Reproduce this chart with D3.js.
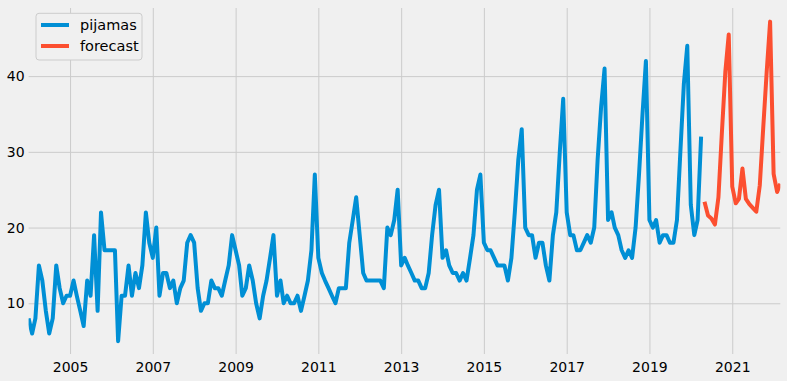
<!DOCTYPE html>
<html>
<head>
<meta charset="utf-8">
<script src="https://cdn.jsdelivr.net/npm/d3@7"></script>
<style>
  body { margin: 0; background: #f0f0f0; }
  text { font-family: "DejaVu Sans", sans-serif; fill: #000; }
</style>
</head>
<body>
<div id="chart"></div>
<script>
// Monthly search interest for "pijamas", Jan 2004 - Apr 2020
var pijamasStart = "2004-01";
var pijamasValues = [
  8, 6, 8, 15, 13, 9, 6, 8, 15, 12, 10, 11,
  11, 13, 11, 9, 7, 13, 11, 19, 9, 22, 17, 17,
  17, 17, 5, 11, 11, 15, 11, 14, 12, 15, 22, 18,
  16, 20, 11, 14, 14, 12, 13, 10, 12, 13, 18, 19,
  18, 12, 9, 10, 10, 13, 12, 12, 11, 13, 15, 19,
  17, 15, 11, 12, 15, 13, 10, 8, 11, 13, 16, 19,
  11, 13, 10, 11, 10, 10, 11, 9, 11, 13, 17, 27,
  16, 14, 13, 12, 11, 10, 12, 12, 12, 18, 21, 24,
  19, 14, 13, 13, 13, 13, 13, 12, 20, 19, 21, 25,
  15, 16, 15, 14, 13, 13, 12, 12, 14, 19, 23, 25,
  16, 17, 15, 14, 14, 13, 14, 13, 16, 19, 25, 27,
  18, 17, 17, 16, 15, 15, 15, 13, 16, 22, 29, 33,
  20, 19, 19, 16, 18, 18, 15, 13, 19, 22, 30, 37,
  22, 19, 19, 17, 17, 18, 19, 18, 20, 29, 36, 41,
  21, 22, 20, 19, 17, 16, 17, 16, 20, 27, 35, 42,
  21, 20, 21, 18, 19, 19, 18, 18, 21, 30, 39, 44,
  23, 19, 21, 32
];

// Forecast, May 2020 - Mar 2022
var forecastStart = "2020-05";
var forecastValues = [
  23.4, 21.6, 21.2, 20.4, 24, 32.4, 40.6, 45.5,
  25.4, 23.2, 23.8, 27.8, 23.8, 23.1, 22.6, 22.1, 25.6, 33.1, 40.6, 47.2,
  27.1, 24.7, 25.8
];

var seriesNames = ["pijamas", "forecast"];
var seriesColors = ["#008fd5", "#fc4f30"];
var yTicks = [10, 20, 30, 40];
var yDomain = [3.3, 49];
var xTickYears = [2005, 2007, 2009, 2011, 2013, 2015, 2017, 2019, 2021];

// Define SVG area
var svgWidth = 787;
var svgHeight = 381;

var margin = {
  top: 8,
  right: 6.7,
  bottom: 27,
  left: 28.6
};

var width = svgWidth - margin.left - margin.right;
var height = svgHeight - margin.top - margin.bottom;

var parseMonth = d3.timeParse("%Y-%m");

// turn a start month + values into {date, value} rows
function toRows(start, values) {
  var first = parseMonth(start);
  return values.map(function(v, i) {
    return { date: d3.timeMonth.offset(first, i), value: v };
  });
}

var pijamas = toRows(pijamasStart, pijamasValues);
var forecast = toRows(forecastStart, forecastValues);

var svg = d3.select("#chart")
  .append("svg")
  .attr("width", svgWidth)
  .attr("height", svgHeight)
  .style("background", "#f0f0f0");

var chartGroup = svg.append("g")
  .attr("transform", `translate(${margin.left}, ${margin.top})`);

// clip lines to the plot area like matplotlib does
chartGroup.append("clipPath")
  .attr("id", "plot-clip")
  .append("rect")
  .attr("width", width)
  .attr("height", height);

// Scales
var xScale = d3.scaleTime()
  .domain([pijamas[0].date, forecast[forecast.length - 1].date])
  .range([0, width]);

var yScale = d3.scaleLinear()
  .domain(yDomain)
  .range([height, 0]);

// Axes with grid lines
var xAxis = d3.axisBottom(xScale)
  .tickValues(xTickYears.map(y => new Date(y, 0, 1)))
  .tickFormat(d3.timeFormat("%Y"))
  .tickSize(-height)
  .tickPadding(8);

var yAxis = d3.axisLeft(yScale)
  .tickValues(yTicks)
  .tickSize(-width)
  .tickPadding(4);

var xAxisGroup = chartGroup.append("g")
  .attr("transform", `translate(0, ${height})`)
  .call(xAxis);

var yAxisGroup = chartGroup.append("g")
  .call(yAxis);

[xAxisGroup, yAxisGroup].forEach(function(g) {
  g.select(".domain").remove();
  g.selectAll(".tick line")
    .attr("stroke", "#cbcbcb")
    .attr("stroke-width", 1);
  g.selectAll(".tick text")
    .attr("fill", "#000")
    .style("font-size", "14px")
    .style("font-family", "DejaVu Sans, sans-serif");
});

// Lines
var line = d3.line()
  .x(d => xScale(d.date))
  .y(d => yScale(d.value));

[pijamas, forecast].forEach(function(rows, i) {
  chartGroup.append("path")
    .datum(rows)
    .attr("clip-path", "url(#plot-clip)")
    .attr("fill", "none")
    .attr("stroke", seriesColors[i])
    .attr("stroke-width", 4)
    .attr("stroke-linejoin", "round")
    .attr("stroke-linecap", "butt")
    .attr("d", line);
});

// Legend
var legend = svg.append("g")
  .attr("transform", "translate(36, 13.3)");

legend.append("rect")
  .attr("width", 106)
  .attr("height", 46.7)
  .attr("rx", 3)
  .attr("fill", "#f0f0f0")
  .attr("stroke", "#cccccc")
  .attr("stroke-width", 1);

seriesNames.forEach(function(name, i) {
  var rowY = 11.7 + i * 21;
  legend.append("line")
    .attr("x1", 5)
    .attr("x2", 33)
    .attr("y1", rowY)
    .attr("y2", rowY)
    .attr("stroke", seriesColors[i])
    .attr("stroke-width", 4);
  legend.append("text")
    .attr("x", 44)
    .attr("y", rowY + 5)
    .style("font-size", "14.5px")
    .text(name);
});
</script>
</body>
</html>
